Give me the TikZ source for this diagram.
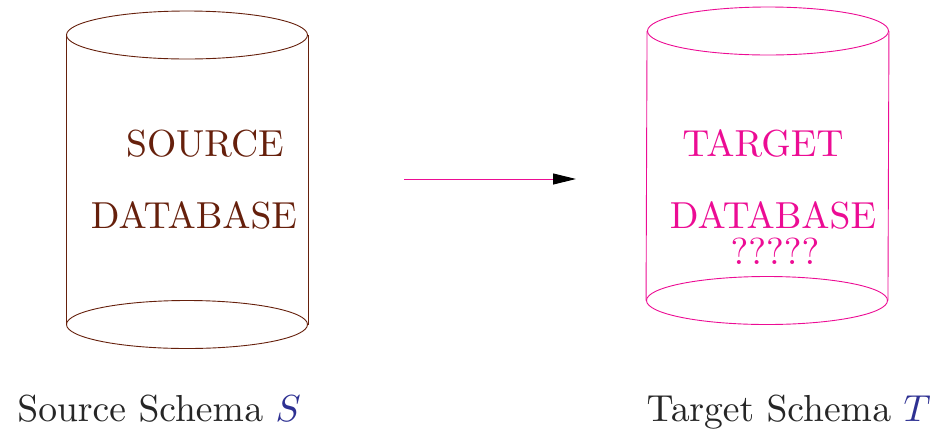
\documentclass[tikz,border=0pt]{standalone}
\usepackage{xcolor}
\usepackage{tikz}
\usetikzlibrary{arrows.meta, shapes.geometric, positioning}

\font\dbfont=cmr10 at 37.6pt
\font\dbital=cmmi10 at 37.6pt

\definecolor{srcbrown}{HTML}{66200C}
\definecolor{tgtpink}{HTML}{EC0C94}
\definecolor{schemablue}{HTML}{2E3192}
\definecolor{schemagray}{HTML}{262626}

\begin{document}
\begin{tikzpicture}[x=1pt, y=1pt, on grid, line width=0.9pt,
    disk/.style={ellipse, draw, inner sep=0pt, minimum width=241pt, minimum height=48pt},
    dbtext/.style={anchor=base, inner sep=0pt, font=\dbfont},
    schematext/.style={dbtext, text=schemagray}]
        \useasboundingbox (0,0) rectangle (934,-432);

        \node[disk, color=srcbrown] (s1) at (187,-35) {};
        \node[disk, color=srcbrown] (s2) [below=289.5pt of s1] {};
        \draw[srcbrown] (s1.west) -- (s2.west);
        \draw[srcbrown] (s1.east) -- (s2.east);
        \node[dbtext, text=srcbrown] (s3) at (205,-156.5) {SOURCE};
        \node[dbtext, text=srcbrown] (s4) at (194,-228.5) {DATABASE};

        \node[disk, color=tgtpink] (t1) at (768,-31) {};
        \node[disk, color=tgtpink] (t2) at (767,-300.5) {};
        \draw[tgtpink] (t1.west) -- (t2.west);
        \draw[tgtpink] (t1.east) -- (t2.east);
        \node[dbtext, text=tgtpink] (t3) at (763,-156.5) {TARGET};
        \node[dbtext, text=tgtpink] (t4) at (773,-228.5) {DATABASE};
        \node[dbtext, text=tgtpink] (t5) at (775,-264.5) {?????};

        \coordinate (a1) at (404,-179);
        \coordinate[right=172pt of a1] (a2);
        \draw[tgtpink, -{Triangle[black, length=23pt, width=11pt]}] (a1) -- (a2);

        \node[schematext] (l1) at (158,-421) {Source Schema \textcolor{schemablue}{\dbital S}};
        \node[schematext] (l2) at (786,-421) {Target Schema \textcolor{schemablue}{\dbital T}};
\end{tikzpicture}
\end{document}
